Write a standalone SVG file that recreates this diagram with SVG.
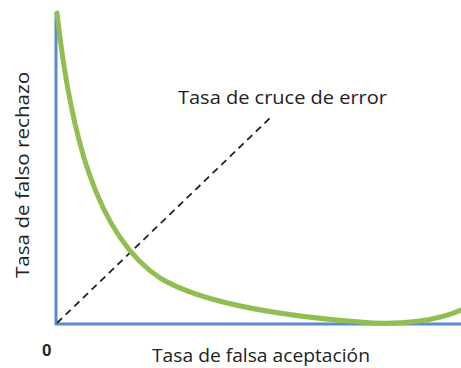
<svg xmlns="http://www.w3.org/2000/svg" width="461" height="368" viewBox="0 0 461 368">
<style>
.axis{stroke:#5b8bcb;stroke-width:3;fill:none}
.curve{stroke:#92bd52;stroke-width:5;fill:none;stroke-linecap:round}
.dash{stroke:#222;stroke-width:1.8;stroke-dasharray:7,5;fill:none}
.lbl{font-family:"Open Sans","Liberation Sans",sans-serif;font-size:18px;fill:#222}
</style>
<rect width="461" height="368" fill="#fff"/>
<g id="axes">
<line class="axis" x1="56" y1="13" x2="56" y2="325"/>
<line class="axis" x1="55" y1="324" x2="461" y2="324"/>
</g>
<g id="connectors">
<line class="dash" x1="57" y1="323" x2="270" y2="118"/>
</g>
<g id="curve">
<path class="curve" d="M57,13 C70,130 95,235 160,278 C200,302 270,315 360,322 C400,326 440,320 461,310"/>
</g>
<g id="labels">
<text class="lbl" x="178" y="104" textLength="209" lengthAdjust="spacingAndGlyphs">Tasa de cruce de error</text>
<text class="lbl" x="152" y="362" textLength="218" lengthAdjust="spacingAndGlyphs">Tasa de falsa aceptación</text>
<text class="lbl" x="0" y="0" transform="translate(29,175) rotate(-90)" text-anchor="middle" textLength="206" lengthAdjust="spacingAndGlyphs">Tasa de falso rechazo</text>
<text x="42" y="356" font-family="Liberation Sans,sans-serif" font-weight="bold" font-size="17" fill="#222">0</text>
</g>
</svg>
